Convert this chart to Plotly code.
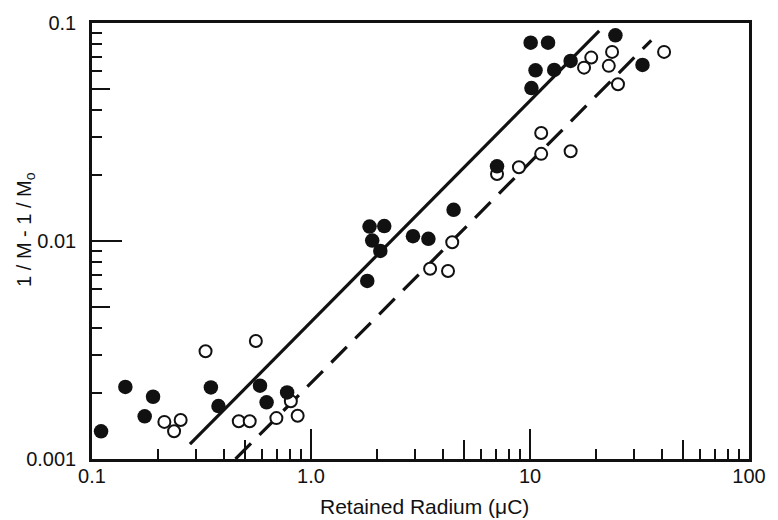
import plotly.graph_objects as go

# ---- data ----
filled_x = [0.11, 0.142, 0.174, 0.190, 0.349, 0.378, 0.585, 0.627, 0.778,
            1.807, 1.851, 2.16, 1.903, 2.073, 2.922, 3.436, 4.479, 7.07,
            10.07, 12.09, 10.6, 12.9, 10.15, 15.33, 24.55, 32.63]
filled_y = [0.00134, 0.00214, 0.00157, 0.00193, 0.00213, 0.00175, 0.00217, 0.00182, 0.00202,
            0.00656, 0.01165, 0.01171, 0.01005, 0.0090, 0.01052, 0.01023, 0.0139, 0.0220,
            0.0812, 0.0812, 0.0607, 0.0609, 0.0503, 0.0670, 0.0878, 0.0642]

open_x = [0.33, 0.56, 0.214, 0.237, 0.254, 0.468, 0.525, 0.695, 0.809, 0.869,
          3.498, 4.223, 4.415, 7.07, 8.9, 11.25, 11.25, 15.33, 17.65, 19.04,
          22.9, 23.7, 25.22, 40.95]
open_y = [0.00312, 0.00348, 0.00148, 0.00134, 0.00151, 0.00149, 0.00149, 0.00154, 0.00184, 0.00158,
          0.00746, 0.00728, 0.00987, 0.0203, 0.0218, 0.0313, 0.0251, 0.0258, 0.0624, 0.0694,
          0.0636, 0.0737, 0.0524, 0.0737]

solid_x = [0.28, 20.7]
solid_y = [0.00117, 0.092]
dashed_x = [0.452, 35.8]
dashed_y = [0.001, 0.0833]

x_major = [0.1, 1, 10, 100]
x_major_text = ["0.1", "1.0", "10", "100"]
y_major = [0.001, 0.01, 0.1]
y_major_text = ["0.001", "0.01", "0.1"]
x_minor = [m * d for d in (0.1, 1, 10) for m in (2, 3, 4, 6, 7, 8, 9)]
y_minor = [m * d for d in (0.001, 0.01) for m in (2, 3, 4, 6, 7, 8, 9)]
x_mid = [0.5, 5, 50]
y_mid = [0.005, 0.05]

x_title = "Retained Radium (\u03bcC)"
y_title = "1 / M - 1 / M<sub>o</sub>"

INK = "#111111"
FONT = "Liberation Sans, Arial, Helvetica, sans-serif"

fig = go.Figure()
fig.add_trace(go.Scatter(x=solid_x, y=solid_y, mode="lines",
                         line=dict(color=INK, width=3.2), hoverinfo="skip"))
fig.add_trace(go.Scatter(x=dashed_x, y=dashed_y, mode="lines",
                         line=dict(color=INK, width=3.2, dash="22px,12px"), hoverinfo="skip"))
fig.add_trace(go.Scatter(x=open_x, y=open_y, mode="markers",
                         marker=dict(size=12, color="white", line=dict(color=INK, width=2))))
fig.add_trace(go.Scatter(x=filled_x, y=filled_y, mode="markers",
                         marker=dict(size=14.5, color=INK, line=dict(width=0))))
# empty trace to host the overlay axes carrying the mid-decade ticks
fig.add_trace(go.Scatter(x=[], y=[], xaxis="x2", yaxis="y2", hoverinfo="skip"))

axis_common = dict(type="log", showgrid=False, zeroline=False, ticks="inside",
                   tickwidth=2, tickcolor=INK, showline=True, linewidth=2.5,
                   linecolor=INK, mirror=True,
                   tickfont=dict(family=FONT, size=20, color=INK))

fig.update_layout(
    width=778, height=520,
    margin=dict(l=92, r=17, t=22, b=61),
    paper_bgcolor="white", plot_bgcolor="white",
    showlegend=False,
    xaxis=dict(range=[-1, 2], tickmode="array", tickvals=x_major, ticktext=x_major_text,
               ticklen=30, ticklabelstandoff=-3,
               minor=dict(tickmode="array", tickvals=x_minor, ticks="inside", ticklen=10,
                          tickwidth=2, tickcolor=INK, showgrid=False),
               **axis_common),
    yaxis=dict(range=[-3, -1], tickmode="array", tickvals=y_major, ticktext=y_major_text,
               ticklen=30, ticklabelstandoff=9,
               minor=dict(tickmode="array", tickvals=y_minor, ticks="inside", ticklen=10,
                          tickwidth=2, tickcolor=INK, showgrid=False),
               **axis_common),
    xaxis2=dict(type="log", range=[-1, 2], overlaying="x", anchor="y2", side="bottom",
                tickmode="array", tickvals=x_mid, ticks="inside", ticklen=19, tickwidth=2,
                tickcolor=INK, showticklabels=False, showline=False, showgrid=False,
                zeroline=False),
    yaxis2=dict(type="log", range=[-3, -1], overlaying="y", anchor="x2", side="left",
                tickmode="array", tickvals=y_mid, ticks="inside", ticklen=18, tickwidth=2,
                tickcolor=INK, showticklabels=False, showline=False, showgrid=False,
                zeroline=False),
    annotations=[
        dict(text=x_title, xref="paper", yref="paper", x=0.5055, y=-0.108,
             xanchor="center", yanchor="middle", showarrow=False,
             font=dict(family=FONT, size=21, color=INK)),
        dict(text=y_title, xref="paper", yref="paper", x=-0.1016, y=0.526,
             xanchor="center", yanchor="middle", showarrow=False, textangle=-90,
             font=dict(family=FONT, size=20, color=INK)),
    ],
)

fig.write_html("out.html", config={"displayModeBar": False},
               post_script="document.body.style.margin='0px';")
